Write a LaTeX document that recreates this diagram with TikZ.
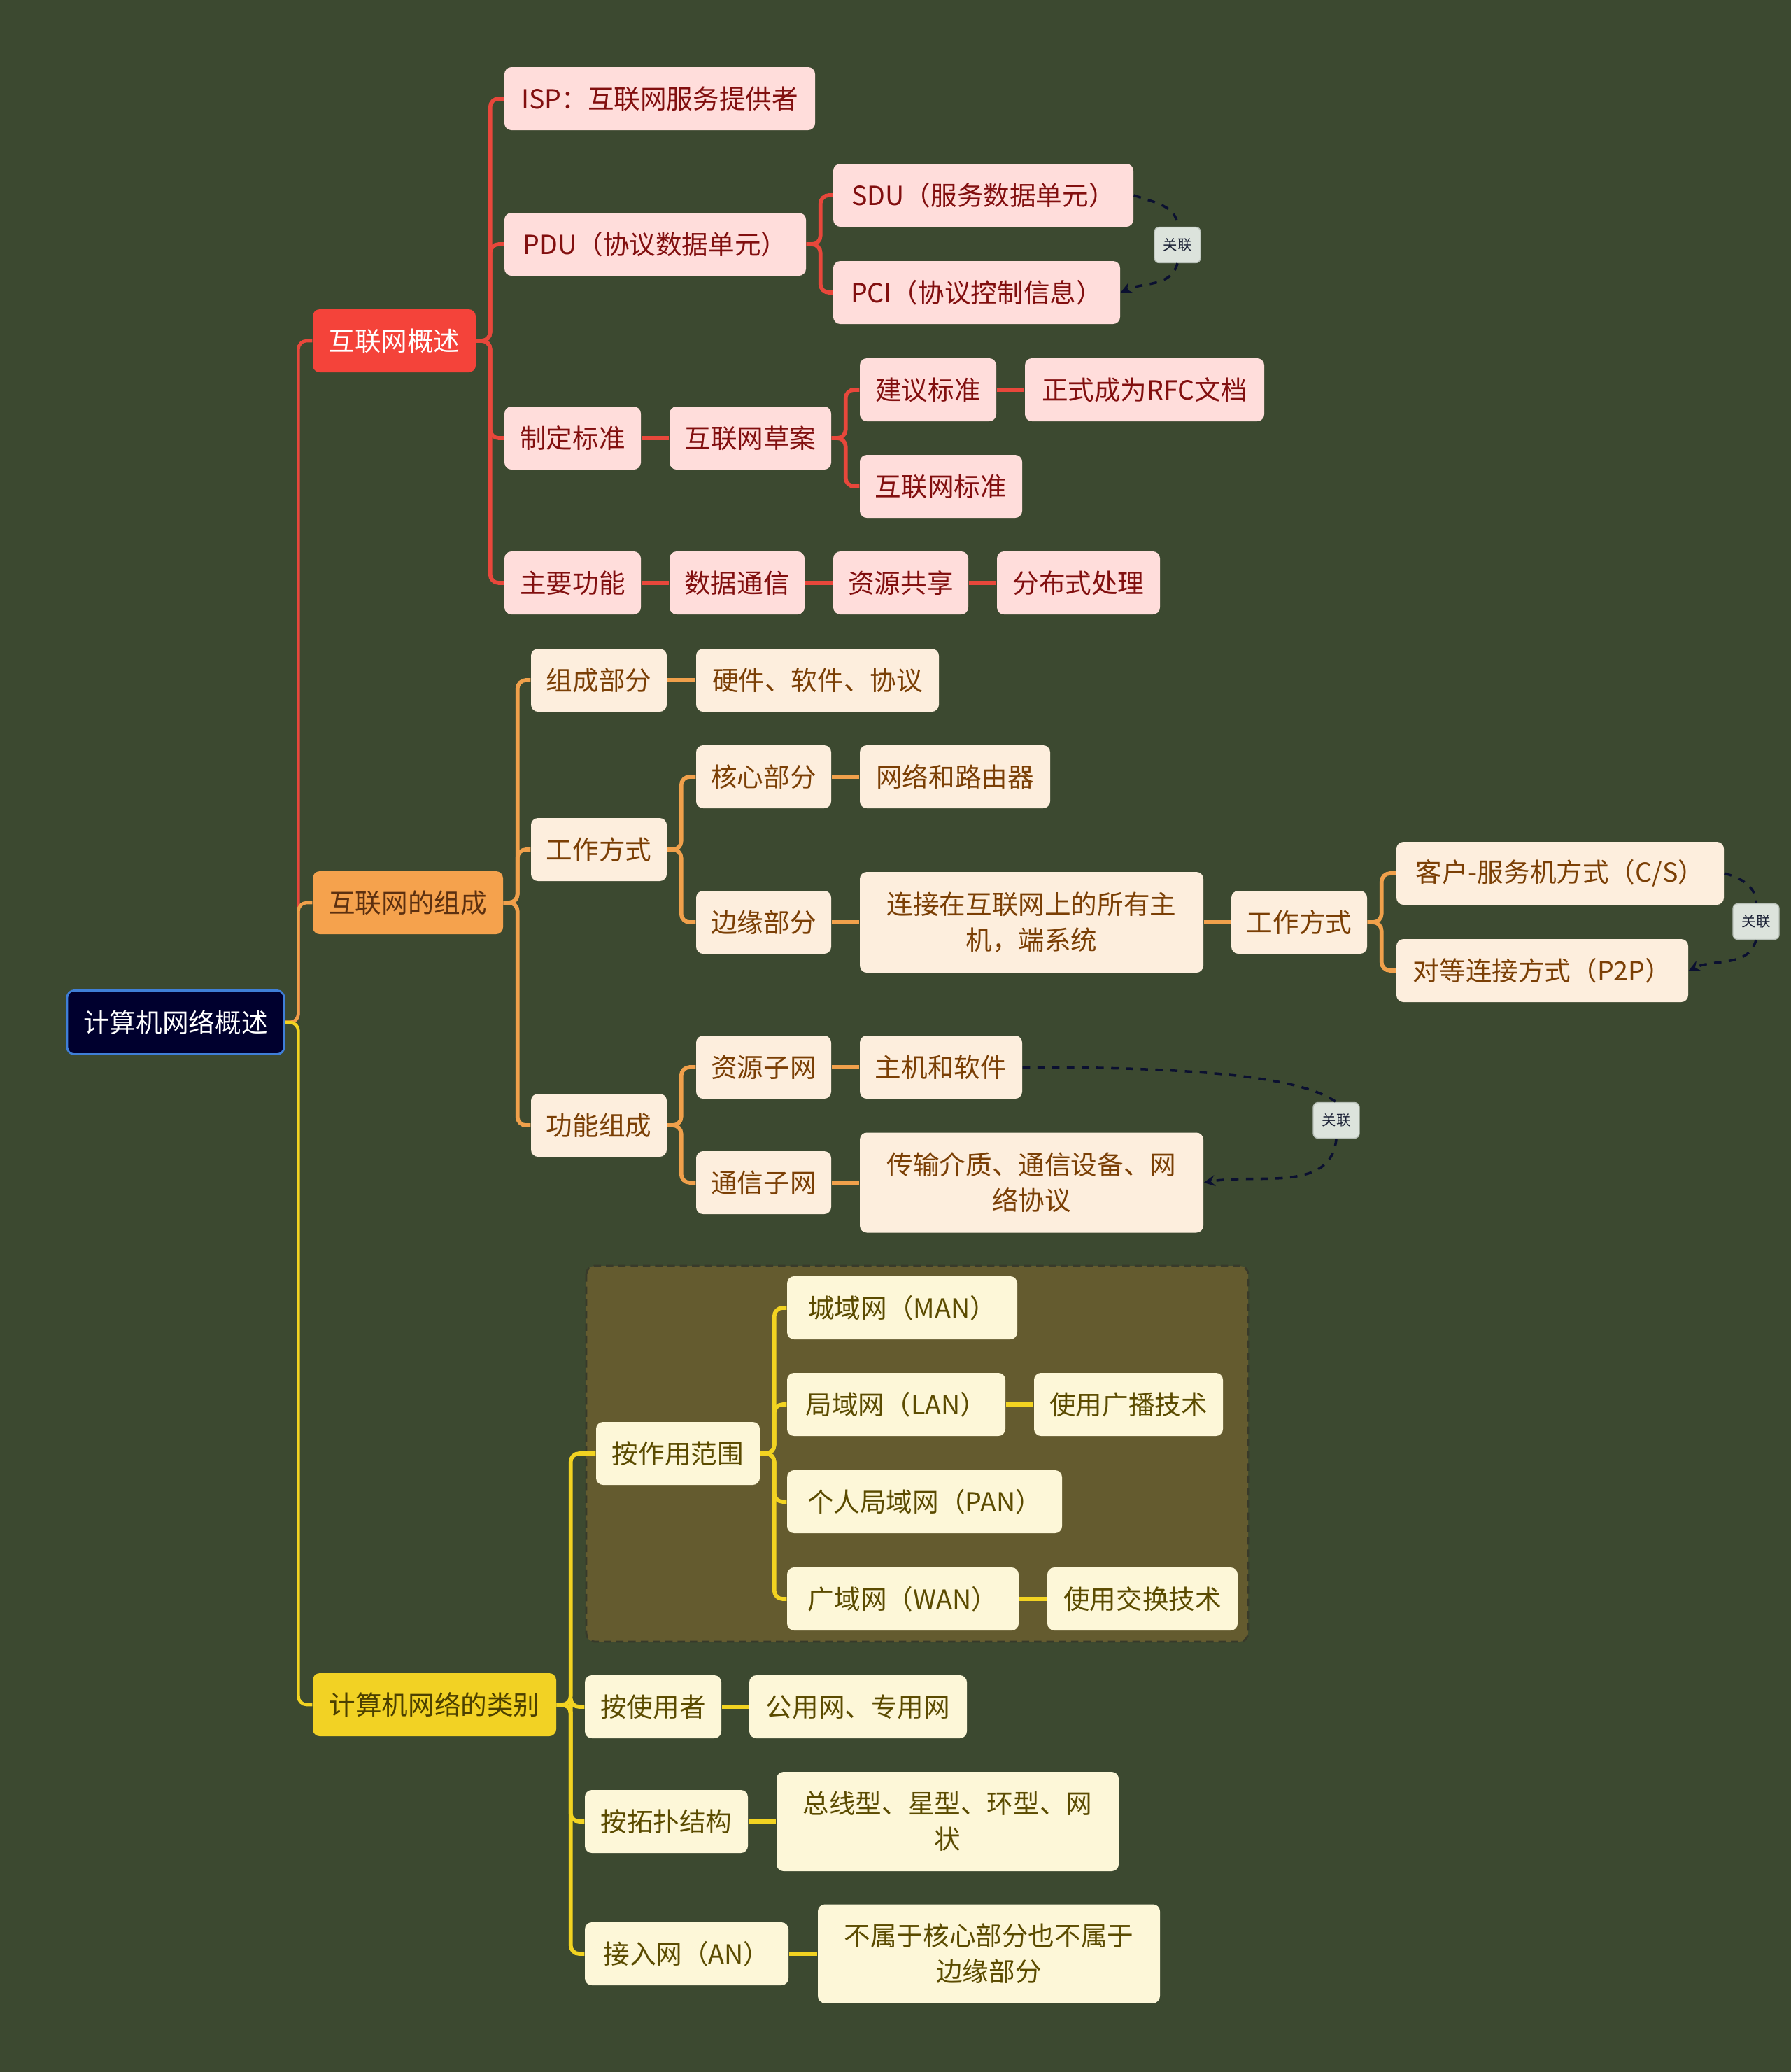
\documentclass[tikz,border=0pt]{standalone}
\usepackage{fontspec}
\setmainfont{Noto Sans CJK SC}
\newcommand\mapfont{\fontsize{10.7}{14.5}\selectfont}
\newcommand\tagfont{\fontsize{5.8}{7}\selectfont}

\definecolor{bgcol}{HTML}{3C4930}
\definecolor{rootfill}{HTML}{00002E}
\definecolor{rootline}{HTML}{3F7FD8}
\definecolor{redhead}{HTML}{F4433A}
\definecolor{redbox}{HTML}{FFDDDB}
\definecolor{redtext}{HTML}{820F0F}
\definecolor{redline}{HTML}{E8473B}
\definecolor{orghead}{HTML}{F5A24D}
\definecolor{orgbox}{HTML}{FDEEDD}
\definecolor{orgtext}{HTML}{7B3F05}
\definecolor{orgdark}{HTML}{5C3010}
\definecolor{orgline}{HTML}{F0A04B}
\definecolor{yelhead}{HTML}{F2D224}
\definecolor{yelbox}{HTML}{FDF7D8}
\definecolor{yeltext}{HTML}{5B4B00}
\definecolor{yeldark}{HTML}{4C4000}
\definecolor{yelline}{HTML}{F2D321}
\definecolor{groupfill}{HTML}{645B2F}
\definecolor{groupline}{HTML}{383A2A}
\definecolor{tagfill}{HTML}{DCE3DC}
\definecolor{tagline}{HTML}{B8C0B8}
\definecolor{tagtext}{HTML}{1A2035}
\definecolor{reldark}{HTML}{0B1030}

\begin{document}
\begin{tikzpicture}[x=1cm, y=-1cm,
    box/.style={rounded corners=0.1cm, minimum height=0.9cm, inner xsep=0.1cm,
                inner ysep=0.1cm, align=center, font=\mapfont},
    rootbox/.style={box, draw=rootline, line width=0.8pt, fill=rootfill, text=white},
    rhead/.style={box, fill=redhead, text=white},
    rbox/.style={box, fill=redbox, text=redtext},
    ohead/.style={box, fill=orghead, text=orgdark},
    obox/.style={box, fill=orgbox, text=orgtext},
    yhead/.style={box, fill=yelhead, text=yeldark},
    ybox/.style={box, fill=yelbox, text=yeltext},
    relbox/.style={draw=tagline, fill=tagfill, rounded corners=2pt, minimum width=0.66cm,
                minimum height=0.51cm, inner sep=1pt, font=\tagfont, text=tagtext},
    rline/.style={draw=redline, line width=1.6pt, rounded corners=0.12cm},
    oline/.style={draw=orgline, line width=1.6pt, rounded corners=0.12cm},
    yline/.style={draw=yelline, line width=1.6pt, rounded corners=0.12cm},
    relline/.style={draw=reldark, line width=1pt, dashed},
    groupbox/.style={fill=groupfill, draw=groupline, line width=0.8pt,
                dash pattern=on 3pt off 2pt, rounded corners=0.12cm}
]
\fill[bgcol] (0,0) rectangle (25.6,29.61);
\draw[groupbox] (8.38,18.09) rectangle (17.84,23.46);

% root
\node[rootbox, minimum width=3.10cm, minimum height=0.91cm] (root) at (2.51,14.61) {计算机网络概述};

% red branch
\node[rhead, minimum width=2.33cm] (gaishu)    at (5.635,4.87)  {互联网概述};
\node[rbox, minimum width=4.44cm]  (isp)       at (9.43,1.41)   {ISP：互联网服务提供者};
\node[rbox, minimum width=4.31cm]  (pdu)       at (9.365,3.49)  {PDU（协议数据单元）};
\node[rbox, minimum width=1.95cm]  (biaozhun)  at (8.185,6.26)  {制定标准};
\node[rbox, minimum width=1.95cm]  (gongneng)  at (8.185,8.33)  {主要功能};
\node[rbox, minimum width=4.29cm]  (sdu)       at (14.055,2.79) {SDU（服务数据单元）};
\node[rbox, minimum width=4.10cm]  (pci)       at (13.96,4.18)  {PCI（协议控制信息）};
\node[rbox, minimum width=2.31cm]  (caoan)     at (10.725,6.26) {互联网草案};
\node[rbox, minimum width=1.95cm]  (jianyi)    at (13.265,5.57) {建议标准};
\node[rbox, minimum width=2.32cm]  (hlwbz)     at (13.45,6.95)  {互联网标准};
\node[rbox, minimum width=3.42cm]  (rfc)       at (16.36,5.57)  {正式成为RFC文档};
\node[rbox, minimum width=1.93cm]  (tongxin)   at (10.535,8.33) {数据通信};
\node[rbox, minimum width=1.93cm]  (gongxiang) at (12.875,8.33) {资源共享};
\node[rbox, minimum width=2.33cm]  (fenbu)     at (15.415,8.33) {分布式处理};
\node[relbox] (gl1) at (16.83,3.50) {关联};

% orange branch
\node[ohead, minimum width=2.72cm] (zucheng)   at (5.83,12.90)   {互联网的组成};
\node[obox, minimum width=1.94cm]  (bufen)     at (8.56,9.72)    {组成部分};
\node[obox, minimum width=1.94cm]  (fangshi)   at (8.56,12.14)   {工作方式};
\node[obox, minimum width=1.94cm]  (gnzc)      at (8.56,16.08)   {功能组成};
\node[obox, minimum width=3.47cm]  (yingjian)  at (11.685,9.72)  {硬件、软件、协议};
\node[obox, minimum width=1.93cm]  (hexin)     at (10.915,11.10) {核心部分};
\node[obox, minimum width=1.93cm]  (bianyuan)  at (10.915,13.18) {边缘部分};
\node[obox, minimum width=2.72cm]  (luyou)     at (13.65,11.10)  {网络和路由器};
\node[obox, minimum width=4.91cm, minimum height=1.44cm] (zhuji) at (14.745,13.18)
     {连接在互联网上的所有主\\机，端系统};
\node[obox, minimum width=1.94cm]  (fangshi2)  at (18.57,13.18)  {工作方式};
\node[obox, minimum width=4.68cm]  (cs)        at (22.30,12.48)  {客户-服务机方式（C/S）};
\node[obox, minimum width=4.17cm]  (ptp)       at (22.045,13.87) {对等连接方式（P2P）};
\node[relbox] (gl2) at (25.10,13.17) {关联};
\node[obox, minimum width=1.93cm]  (ziyuan)    at (10.915,15.25) {资源子网};
\node[obox, minimum width=1.93cm]  (txzw)      at (10.915,16.90) {通信子网};
\node[obox, minimum width=2.32cm]  (ruanjian)  at (13.45,15.25)  {主机和软件};
\node[obox, minimum width=4.91cm, minimum height=1.43cm] (jiezhi) at (14.745,16.90)
     {传输介质、通信设备、网\\络协议};
\node[relbox] (gl3) at (19.10,16.01) {关联};

% yellow branch
\node[yhead, minimum width=3.48cm] (leibie)    at (6.21,24.36)   {计算机网络的类别};
\node[ybox, minimum width=2.34cm]  (fanwei)    at (9.69,20.77)   {按作用范围};
\node[ybox, minimum width=1.95cm]  (shiyong)   at (9.335,24.39)  {按使用者};
\node[ybox, minimum width=2.33cm]  (tuopu)     at (9.525,26.03)  {按拓扑结构};
\node[ybox, minimum width=2.91cm]  (jieru)     at (9.815,27.92)  {接入网（AN）};
\node[ybox, minimum width=3.29cm]  (man)       at (12.895,18.69) {城域网（MAN）};
\node[ybox, minimum width=3.12cm]  (lan)       at (12.81,20.07)  {局域网（LAN）};
\node[ybox, minimum width=3.93cm]  (pan)       at (13.215,21.46) {个人局域网（PAN）};
\node[ybox, minimum width=3.31cm]  (wan)       at (12.905,22.85) {广域网（WAN）};
\node[ybox, minimum width=2.70cm]  (guangbo)   at (16.13,20.07)  {使用广播技术};
\node[ybox, minimum width=2.72cm]  (jiaohuan)  at (16.33,22.85)  {使用交换技术};
\node[ybox, minimum width=3.11cm]  (gongyong)  at (12.265,24.39) {公用网、专用网};
\node[ybox, minimum width=4.89cm, minimum height=1.42cm] (zongxian) at (13.545,26.03)
     {总线型、星型、环型、网\\状};
\node[ybox, minimum width=4.89cm, minimum height=1.41cm] (bushu) at (14.135,27.92)
     {不属于核心部分也不属于\\边缘部分};

% root connectors
\draw[rline, line width=1.3pt] (root.east) -- ++(0.19,0) |- (gaishu.west);
\draw[oline, line width=1.3pt] (root.east) -- ++(0.19,0) |- (zucheng.west);
\draw[yline, line width=1.3pt] (root.east) -- ++(0.19,0) |- (leibie.west);

% red connectors
\draw[rline] (gaishu.east) -- ++(0.2,0) |- (isp.west);
\draw[rline] (gaishu.east) -- ++(0.2,0) |- (pdu.west);
\draw[rline] (gaishu.east) -- ++(0.2,0) |- (biaozhun.west);
\draw[rline] (gaishu.east) -- ++(0.2,0) |- (gongneng.west);
\draw[rline] (pdu.east) -- ++(0.2,0) |- (sdu.west);
\draw[rline] (pdu.east) -- ++(0.2,0) |- (pci.west);
\draw[rline] (biaozhun) -- (caoan);
\draw[rline] (caoan.east) -- ++(0.2,0) |- (jianyi.west);
\draw[rline] (caoan.east) -- ++(0.2,0) |- (hlwbz.west);
\draw[rline] (jianyi) -- (rfc);
\draw[rline] (gongneng) -- (tongxin);
\draw[rline] (tongxin) -- (gongxiang);
\draw[rline] (gongxiang) -- (fenbu);

% orange connectors
\draw[oline] (zucheng.east) -- ++(0.2,0) |- (bufen.west);
\draw[oline] (zucheng.east) -- ++(0.2,0) |- (fangshi.west);
\draw[oline] (zucheng.east) -- ++(0.2,0) |- (gnzc.west);
\draw[oline] (bufen) -- (yingjian);
\draw[oline] (fangshi.east) -- ++(0.2,0) |- (hexin.west);
\draw[oline] (fangshi.east) -- ++(0.2,0) |- (bianyuan.west);
\draw[oline] (hexin) -- (luyou);
\draw[oline] (bianyuan) -- (zhuji);
\draw[oline] (zhuji) -- (fangshi2);
\draw[oline] (fangshi2.east) -- ++(0.2,0) |- (cs.west);
\draw[oline] (fangshi2.east) -- ++(0.2,0) |- (ptp.west);
\draw[oline] (gnzc.east) -- ++(0.2,0) |- (ziyuan.west);
\draw[oline] (gnzc.east) -- ++(0.2,0) |- (txzw.west);
\draw[oline] (ziyuan) -- (ruanjian);
\draw[oline] (txzw) -- (jiezhi);

% yellow connectors
\draw[yline] (leibie.east) -- ++(0.2,0) |- (fanwei.west);
\draw[yline] (leibie.east) -- ++(0.2,0) |- (shiyong.west);
\draw[yline] (leibie.east) -- ++(0.2,0) |- (tuopu.west);
\draw[yline] (leibie.east) -- ++(0.2,0) |- (jieru.west);
\draw[yline] (fanwei.east) -- ++(0.2,0) |- (man.west);
\draw[yline] (fanwei.east) -- ++(0.2,0) |- (lan.west);
\draw[yline] (fanwei.east) -- ++(0.2,0) |- (pan.west);
\draw[yline] (fanwei.east) -- ++(0.2,0) |- (wan.west);
\draw[yline] (lan) -- (guangbo);
\draw[yline] (wan) -- (jiaohuan);
\draw[yline] (shiyong) -- (gongyong);
\draw[yline] (tuopu) -- (zongxian);
\draw[yline] (jieru) -- (bushu);

% relations
\draw[relline] (sdu.east) to[out=-20, in=90] (gl1.north);
\draw[relline, ->, >=stealth] (gl1.south) to[out=-105, in=25] (pci.east);
\draw[relline] (cs.east) to[out=-15, in=90] (gl2.north);
\draw[relline, ->, >=stealth] (gl2.south) to[out=-105, in=25] (ptp.east);
\draw[relline] (ruanjian.east) .. controls +(2.6,0) and +(-0.5,-0.35) .. (gl3.north);
\draw[relline, ->, >=stealth] (gl3.south) to[out=-95, in=10] (jiezhi.east);
\end{tikzpicture}
\end{document}
